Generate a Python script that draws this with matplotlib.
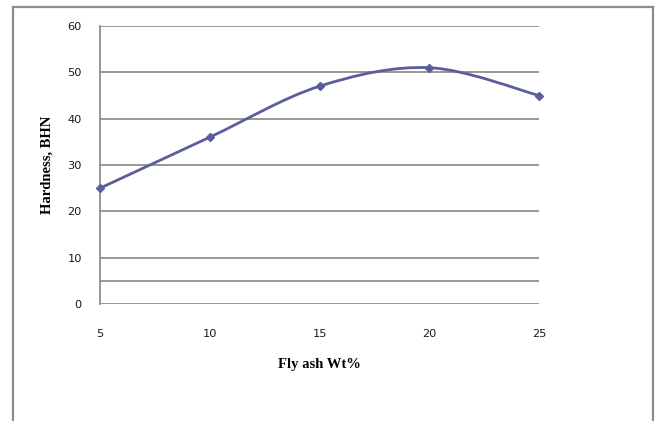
import numpy as np
import matplotlib
matplotlib.use("Agg")
import matplotlib.pyplot as plt
from matplotlib.path import Path
from matplotlib.patches import PathPatch
from matplotlib.lines import Line2D

fly_ash = [5, 10, 15, 20, 25]
hardness = [25, 36, 47, 51, 45]
y_ticks = [0, 10, 20, 30, 40, 50, 60]
extra_gridline = 5

W, H = 658, 421
fig = plt.figure(figsize=(W / 100, H / 100), dpi=100)
fig.patch.set_facecolor("white")

# chart border (top, left, right)
border_col = "#8c8c8c"
fig.add_artist(Line2D([13 / W, 13 / W], [0, 1 - 7 / H], transform=fig.transFigure, color=border_col, lw=1.6))
fig.add_artist(Line2D([13 / W, 653 / W], [1 - 7 / H, 1 - 7 / H], transform=fig.transFigure, color=border_col, lw=1.6))
fig.add_artist(Line2D([653 / W, 653 / W], [0, 1 - 7 / H], transform=fig.transFigure, color=border_col, lw=1.6))

left, right, top, bottom = 100, 539, 26, 304
ax = fig.add_axes([left / W, 1 - bottom / H, (right - left) / W, (bottom - top) / H])
ax.set_xlim(5, 25)
ax.set_ylim(0, 60)

grid_col = "#8f8f8f"
for v in y_ticks[1:] + [extra_gridline]:
    ax.axhline(v, color=grid_col, lw=1.3, zorder=1)
ax.axhline(0, color=grid_col, lw=1.3, zorder=1)

for s in ["top", "right", "bottom"]:
    ax.spines[s].set_visible(False)
ax.spines["left"].set_color(grid_col)
ax.spines["left"].set_linewidth(1.3)

ax.set_xticks(fly_ash)
ax.set_yticks(y_ticks)
ax.tick_params(axis="both", length=0, labelsize=8.2, colors="#1a1a1a")
ax.tick_params(axis="x", pad=18)
ax.tick_params(axis="y", pad=13)

# smoothed line (Catmull-Rom style bezier through the data points)
pts = np.column_stack([fly_ash, hardness]).astype(float)
n = len(pts)
verts = [pts[0]]
codes = [Path.MOVETO]
for i in range(n - 1):
    p0 = pts[i - 1] if i > 0 else pts[i]
    p1 = pts[i]
    p2 = pts[i + 1]
    p3 = pts[i + 2] if i + 2 < n else pts[i + 1]
    c1 = p1 + (p2 - p0) / 6.0
    c2 = p2 - (p3 - p1) / 6.0
    verts += [c1, c2, p2]
    codes += [Path.CURVE4] * 3
line_col = "#5a5e9c"
ax.add_patch(PathPatch(Path(verts, codes), facecolor="none", edgecolor=line_col, lw=2.0, zorder=3, clip_on=False))
ax.plot(fly_ash, hardness, linestyle="none", marker="D", markersize=4.5, color=line_col, zorder=4, clip_on=False)

ax.set_xlabel("Fly ash Wt%", fontfamily="Liberation Serif", fontweight="bold", fontsize=10.5, labelpad=14)
ax.set_ylabel("Hardness, BHN", fontfamily="Liberation Serif", fontweight="bold", fontsize=10.5, labelpad=10)

fig.savefig("out.png", dpi=100, facecolor="white")
